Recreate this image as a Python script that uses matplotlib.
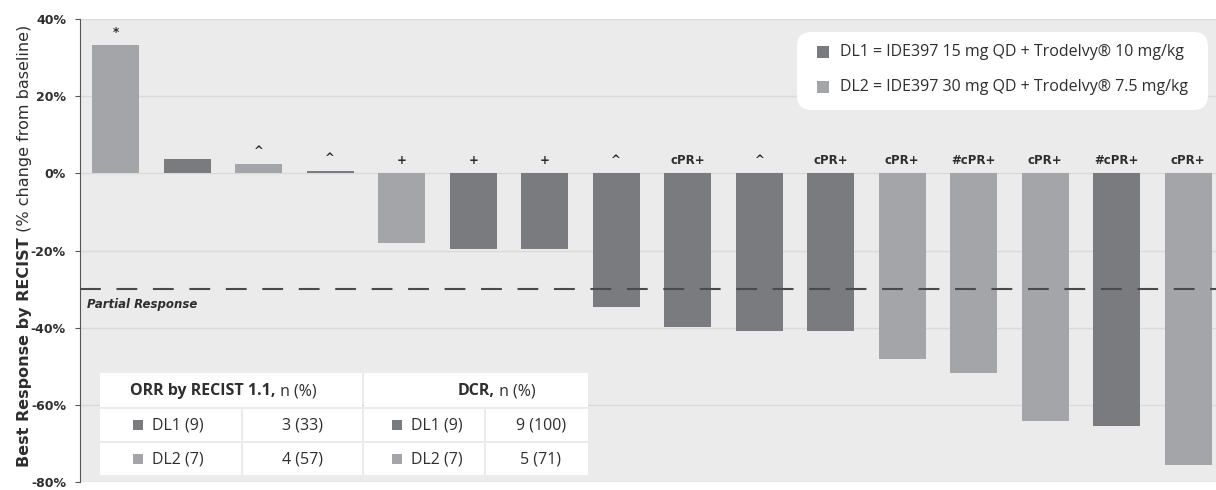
import matplotlib.pyplot as plt
from matplotlib.patches import FancyBboxPatch, Rectangle

# data
patients = list(range(1, 17))
best_response = [33.3, 3.8, 2.4, 0.5, -18.0, -19.7, -19.7, -34.6, -39.8, -40.9,
                 -40.9, -48.2, -51.8, -64.1, -65.4, -75.7]
dose_level = ['DL2', 'DL1', 'DL2', 'DL1', 'DL2', 'DL1', 'DL1', 'DL1', 'DL1', 'DL1',
              'DL1', 'DL2', 'DL2', 'DL2', 'DL1', 'DL2']
marks = ['*', '', '^', '^', '+', '+', '+', '^', 'cPR+', '^', 'cPR+', 'cPR+',
         '#cPR+', 'cPR+', '#cPR+', 'cPR+']
pr_threshold = -30
yticks = [40, 20, 0, -20, -40, -60, -80]

legend_labels = {'DL1': 'DL1 = IDE397 15 mg QD + Trodelvy® 10 mg/kg',
                 'DL2': 'DL2 = IDE397 30 mg QD + Trodelvy® 7.5 mg/kg'}
table_rows = ['DL1 (9)', 'DL2 (7)']
orr_vals = ['3 (33)', '4 (57)']
dcr_vals = ['9 (100)', '5 (71)']

colors = {'DL1': '#7a7b7f', 'DL2': '#a4a5a9'}
txt = '#2e2e2e'

W, H = 1216, 490
fig = plt.figure(figsize=(W / 100, H / 100), dpi=100)
fig.patch.set_facecolor('white')
ax = fig.add_axes([80 / W, 1 - 482 / H, 1 - 80 / W, (482 - 19) / H])
ax.set_facecolor('#ebebeb')

x = list(range(len(patients)))
ax.bar(x, best_response, width=0.66, color=[colors[d] for d in dose_level], zorder=3)

for xi, v, m in zip(x, best_response, marks):
    if m:
        ax.text(xi, max(v, 0) + 1.6, m, ha='center', va='bottom', fontsize=8.5,
                fontweight='bold', color=txt, zorder=4)

ax.axhline(pr_threshold, color='#4a4a4a', lw=1.5, dashes=(10, 7.5), zorder=4)
ax.text(-0.4, pr_threshold - 2.2, 'Partial Response', fontsize=8.5, fontweight='bold',
        fontstyle='italic', color=txt, va='top', ha='left', zorder=4)

ax.set_xlim(-0.5, -0.5 + 1136 / 71.5)
ax.set_ylim(-80, 40)
ax.set_yticks(yticks)
ax.set_yticklabels([f'{t}%' for t in yticks], fontsize=9, fontweight='bold', color=txt)
ax.set_xticks([])
ax.grid(axis='y', color='#dadada', lw=1, zorder=0)
for s in ['top', 'right', 'bottom']:
    ax.spines[s].set_visible(False)
ax.spines['left'].set_color('#555555')
ax.tick_params(axis='y', length=3.6, color='#555555', pad=6.5)


def px(xp, yp):
    return xp / W, 1 - yp / H


# y label in two weights
yl = fig.text(25 / W, 1 - 467 / H, 'Best Response by RECIST', rotation=90, fontsize=11.5,
              fontweight='bold', color=txt, ha='center', va='bottom')
fig.add_artist(plt.Annotation(' (% change from baseline)', xy=(0.5, 1), xycoords=yl,
                              rotation=90, fontsize=11.5, color=txt, ha='center', va='bottom'))

# legend box
lx, ly = px(797, 110)
fig.add_artist(FancyBboxPatch((lx, ly), 411 / W, 78 / H, boxstyle='round,pad=0,rounding_size=0.012',
                              transform=fig.transFigure, facecolor='white', edgecolor='none', zorder=5,
                              mutation_aspect=W / H))
for i, key in enumerate(['DL1', 'DL2']):
    yy = 52 + i * 35
    fig.add_artist(Rectangle(px(817, yy + 6), 12 / W, 12 / H, transform=fig.transFigure,
                             facecolor=colors[key], edgecolor='none', zorder=6))
    fig.text(*px(840, yy), legend_labels[key], fontsize=11.5, color=txt, va='center',
             ha='left', family='Open Sans', zorder=6)

# summary table
cols = [(100, 241), (243, 362), (364, 484), (486, 588)]
rows = [(409, 441), (443, 475)]
for (x0, x1) in [(100, 362), (364, 588)]:
    fig.add_artist(Rectangle(px(x0, 407), (x1 - x0) / W, (407 - 373) / H,
                             transform=fig.transFigure, facecolor='white', edgecolor='none', zorder=5))
for (y0, y1) in rows:
    for (x0, x1) in cols:
        fig.add_artist(Rectangle(px(x0, y1), (x1 - x0) / W, (y1 - y0) / H,
                                 transform=fig.transFigure, facecolor='white', edgecolor='none', zorder=5))

h1 = fig.text(*px(130, 391), 'ORR by RECIST 1.1,', fontsize=11.5, fontweight='bold', color=txt,
              va='center', ha='left', family='Open Sans', zorder=6)
fig.add_artist(plt.Annotation(' n (%)', xy=(1, 0.5), xycoords=h1, fontsize=11.5, color=txt,
                              va='center', ha='left', family='Open Sans', zorder=6))
h2 = fig.text(*px(458, 391), 'DCR,', fontsize=11.5, fontweight='bold', color=txt,
              va='center', ha='left', family='Open Sans', zorder=6)
fig.add_artist(plt.Annotation(' n (%)', xy=(1, 0.5), xycoords=h2, fontsize=11.5, color=txt,
                              va='center', ha='left', family='Open Sans', zorder=6))

for i, key in enumerate(['DL1', 'DL2']):
    yc = (rows[i][0] + rows[i][1]) / 2
    for xs, val_x, val in [(133, 302, orr_vals[i]), (392, 541, dcr_vals[i])]:
        fig.add_artist(Rectangle(px(xs, yc + 5), 10 / W, 10 / H, transform=fig.transFigure,
                                 facecolor=colors[key], edgecolor='none', zorder=6))
        fig.text(*px(xs + 19, yc), table_rows[i], fontsize=11.5, color=txt, va='center',
                 ha='left', family='Open Sans', zorder=6)
        fig.text(*px(val_x, yc), val, fontsize=11.5, color=txt, va='center',
                 ha='center', family='Open Sans', zorder=6)

fig.savefig('out.png', dpi=100)
